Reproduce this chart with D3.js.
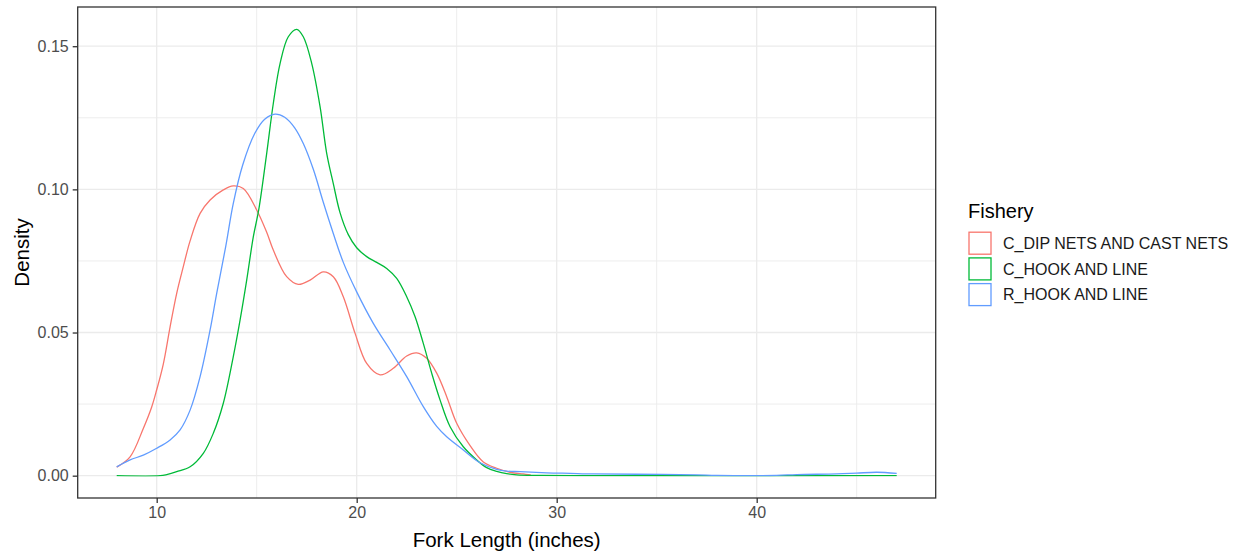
<!DOCTYPE html>
<html>
<head>
<meta charset="utf-8">
<script src="https://cdn.jsdelivr.net/npm/d3@7"></script>
<style>
  html, body { margin: 0; padding: 0; background: #fff; }
  svg { display: block; font-family: "Liberation Sans", Arial, sans-serif; }
</style>
</head>
<body>
<svg id="chart" width="1241" height="555"></svg>
<script>
// ---- data ----
const seriesNames = ["C_DIP NETS AND CAST NETS", "C_HOOK AND LINE", "R_HOOK AND LINE"];
const seriesColors = ["#F8766D", "#00BA38", "#619CFF"];

const dipNetsX = [8, 8.67, 9.33, 9.75, 10, 10.33, 10.67, 11, 11.33, 11.67, 12.17, 12.67, 13.33, 13.83, 14.33, 15, 15.5, 15.83, 16.5, 17.08, 17.67, 18.33, 18.83, 19.33, 19.92, 20.5, 21.17, 21.83, 22.5, 23, 23.5, 24, 24.5, 25, 25.67, 26.33, 27, 27.67, 28.33, 28.7];
const dipNetsY = [0.003, 0.0066, 0.0165, 0.024, 0.030, 0.039, 0.052, 0.0637, 0.073, 0.082, 0.0916, 0.0963, 0.0998, 0.1012, 0.1003, 0.0928, 0.085, 0.0788, 0.0695, 0.0668, 0.0683, 0.0712, 0.0695, 0.0625, 0.0497, 0.0392, 0.0352, 0.0375, 0.0418, 0.0429, 0.041, 0.0358, 0.0276, 0.0183, 0.0105, 0.0048, 0.0026, 0.0012, 0.0006, 0.0003];

const cHookX = [8, 10.17, 10.5, 11, 11.67, 12.33, 12.83, 13.33, 13.83, 14.17, 14.5, 14.83, 15.1, 15.5, 15.83, 16.17, 16.58, 17, 17.33, 17.75, 18.17, 18.5, 18.83, 19.17, 19.58, 20, 20.5, 21, 21.5, 22, 22.5, 22.92, 23.33, 23.75, 24.17, 24.67, 25.33, 26, 26.5, 27, 27.5, 28, 29, 31, 47];
const cHookY = [0, 0, 0.0004, 0.0014, 0.0031, 0.0078, 0.0148, 0.0253, 0.0416, 0.0544, 0.0683, 0.0834, 0.0928, 0.1126, 0.13, 0.144, 0.1533, 0.1559, 0.1533, 0.144, 0.1288, 0.1126, 0.102, 0.0918, 0.0842, 0.0796, 0.0765, 0.0745, 0.0724, 0.0689, 0.0625, 0.0555, 0.0462, 0.0358, 0.0264, 0.0171, 0.0101, 0.0055, 0.0028, 0.0015, 0.0007, 0.0003, 0.0001, 0, 0];

const rHookX = [8, 8.67, 9.33, 10, 10.67, 11.17, 11.67, 12.17, 12.67, 13, 13.45, 13.83, 14.3, 14.9, 15.4, 15.92, 16.4, 16.9, 17.33, 17.83, 18.33, 18.83, 19.33, 20, 20.83, 21.67, 22.5, 23.33, 24, 24.5, 25.33, 26.17, 27, 27.5, 28.17, 29.5, 30.67, 31.83, 34, 37, 38, 41, 42, 44, 45, 46, 47];
const rHookY = [0.0031, 0.0055, 0.0072, 0.0096, 0.0125, 0.016, 0.0229, 0.0346, 0.0509, 0.0637, 0.080, 0.0951, 0.1085, 0.1195, 0.1245, 0.1263, 0.1252, 0.1215, 0.116, 0.107, 0.0955, 0.0846, 0.0745, 0.0642, 0.0532, 0.0439, 0.0346, 0.0241, 0.0172, 0.0136, 0.009, 0.0045, 0.0022, 0.0016, 0.0014, 0.001, 0.0008, 0.0006, 0.0005, 0.0003, 0.0001, 0.0001, 0.0004, 0.0006, 0.0009, 0.0012, 0.0008];

const xTicks = [10, 20, 30, 40];
const xMinor = [15, 25, 35, 45];
const yTicks = [0, 0.05, 0.10, 0.15];
const yTickLabels = ["0.00", "0.05", "0.10", "0.15"];
const yMinor = [0.025, 0.075, 0.125];

const xTitle = "Fork Length (inches)";
const yTitle = "Density";
const legendTitle = "Fishery";

// ---- build ----
const series = [
  { name: seriesNames[0], color: seriesColors[0], pts: dipNetsX.map((x, i) => [x, dipNetsY[i]]) },
  { name: seriesNames[1], color: seriesColors[1], pts: cHookX.map((x, i) => [x, cHookY[i]]) },
  { name: seriesNames[2], color: seriesColors[2], pts: rHookX.map((x, i) => [x, rHookY[i]]) }
];

const svg = d3.select("#chart");
const panel = { left: 77.7, right: 935.7, top: 7, bottom: 498 };

const allX = series.flatMap(s => s.pts.map(p => p[0]));
const allY = series.flatMap(s => s.pts.map(p => p[1]));
const xMin = d3.min(allX), xMax = d3.max(allX);
const yMin = 0, yMax = d3.max(allY);
const xPad = (xMax - xMin) * 0.05, yPad = (yMax - yMin) * 0.05;

const x = d3.scaleLinear().domain([xMin - xPad, xMax + xPad]).range([panel.left, panel.right]);
const y = d3.scaleLinear().domain([yMin - yPad, yMax + yPad]).range([panel.bottom, panel.top]);

svg.append("rect").attr("x", panel.left).attr("y", panel.top)
  .attr("width", panel.right - panel.left).attr("height", panel.bottom - panel.top)
  .attr("fill", "#fff");

const grid = svg.append("g");
grid.selectAll(".xm").data(xMinor).join("line")
  .attr("x1", d => x(d)).attr("x2", d => x(d)).attr("y1", panel.top).attr("y2", panel.bottom)
  .attr("stroke", "#EBEBEB").attr("stroke-width", 0.9);
grid.selectAll(".ym").data(yMinor).join("line")
  .attr("y1", d => y(d)).attr("y2", d => y(d)).attr("x1", panel.left).attr("x2", panel.right)
  .attr("stroke", "#EBEBEB").attr("stroke-width", 0.9);
grid.selectAll(".xM").data(xTicks).join("line")
  .attr("x1", d => x(d)).attr("x2", d => x(d)).attr("y1", panel.top).attr("y2", panel.bottom)
  .attr("stroke", "#EBEBEB").attr("stroke-width", 1.3);
grid.selectAll(".yM").data(yTicks).join("line")
  .attr("y1", d => y(d)).attr("y2", d => y(d)).attr("x1", panel.left).attr("x2", panel.right)
  .attr("stroke", "#EBEBEB").attr("stroke-width", 1.3);

// lines (smooth through points, clamped at zero)
const line = d3.line().x(d => x(d[0])).y(d => y(d[1])).curve(d3.curveCatmullRom.alpha(0.5));
const clip = svg.append("clipPath").attr("id", "pclip").append("rect")
  .attr("x", panel.left).attr("y", panel.top).attr("width", panel.right - panel.left)
  .attr("height", y(0) - panel.top + 0.7);
svg.append("g").attr("clip-path", "url(#pclip)").selectAll("path").data(series).join("path")
  .attr("d", d => line(d.pts))
  .attr("fill", "none").attr("stroke", d => d.color).attr("stroke-width", 1.3);

svg.append("rect").attr("x", panel.left).attr("y", panel.top)
  .attr("width", panel.right - panel.left).attr("height", panel.bottom - panel.top)
  .attr("fill", "none").attr("stroke", "#333333").attr("stroke-width", 1.3);

const fontFam = "'Liberation Sans', Arial, sans-serif";
const xAxis = d3.axisBottom(x).tickValues(xTicks).tickSize(5).tickPadding(4).tickSizeOuter(0);
const gx = svg.append("g").attr("transform", `translate(0,${panel.bottom})`).call(xAxis);
gx.select(".domain").remove();
gx.selectAll(".tick line").attr("stroke", "#333333").attr("stroke-width", 1.3);
gx.selectAll(".tick text").attr("fill", "#4D4D4D").style("font-size", "16px").style("font-family", fontFam);

const yAxis = d3.axisLeft(y).tickValues(yTicks).tickFormat((d, i) => yTickLabels[i]).tickSize(5).tickPadding(4).tickSizeOuter(0);
const gy = svg.append("g").attr("transform", `translate(${panel.left},0)`).call(yAxis);
gy.select(".domain").remove();
gy.selectAll(".tick line").attr("stroke", "#333333").attr("stroke-width", 1.3);
gy.selectAll(".tick text").attr("fill", "#4D4D4D").style("font-size", "16px").style("font-family", fontFam);

svg.append("text").attr("x", (panel.left + panel.right) / 2).attr("y", 547)
  .attr("text-anchor", "middle").attr("fill", "#000").style("font-size", "20.5px").text(xTitle);
svg.append("text").attr("transform", `translate(29,${(panel.top + panel.bottom) / 2}) rotate(-90)`)
  .attr("text-anchor", "middle").attr("fill", "#000").style("font-size", "20.5px").text(yTitle);

const lg = svg.append("g").attr("transform", "translate(968,0)");
lg.append("text").attr("x", 0).attr("y", 218).attr("fill", "#000").style("font-size", "20px").text(legendTitle);
const keyH = 25.7;
series.forEach((s, i) => {
  const top = 231.5 + i * keyH;
  lg.append("rect").attr("x", 1).attr("y", top + 0.7).attr("width", 22).attr("height", 22)
    .attr("fill", "none").attr("stroke", s.color).attr("stroke-width", 1.3);
  lg.append("text").attr("x", 35).attr("y", top + 11.7).attr("dy", "0.35em")
    .attr("fill", "#1A1A1A").style("font-size", "16px").text(s.name);
});
</script>
</body>
</html>
